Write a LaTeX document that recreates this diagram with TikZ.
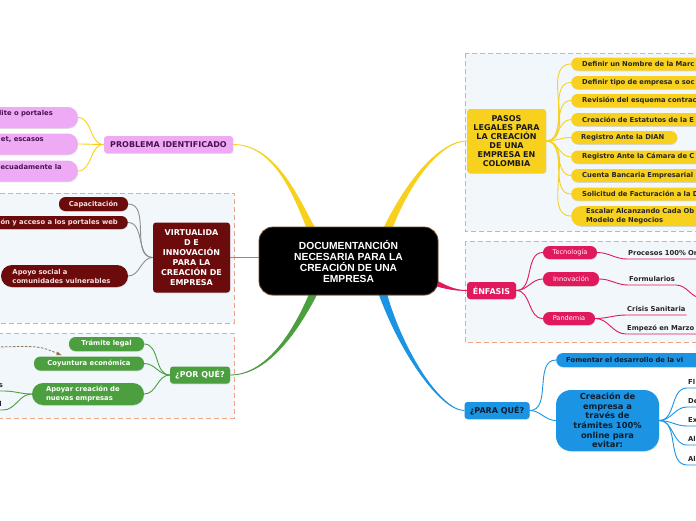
\documentclass[tikz,border=0pt]{standalone}
\usepackage{fontspec}
\setmainfont{DejaVu Sans}
\newfontfamily\centralfont{Liberation Sans}
\usepackage{tikz}
\usetikzlibrary{shadows}

\definecolor{mapyellow}{HTML}{F8D11E}
\definecolor{mappink}{HTML}{EFAAF6}
\definecolor{mappinktext}{HTML}{4A1250}
\definecolor{mapred}{HTML}{6C0B0C}
\definecolor{mapredtext}{HTML}{F5DEDE}
\definecolor{mapgray}{HTML}{8C8C8C}
\definecolor{mapgreen}{HTML}{4C9F3E}
\definecolor{mapmagenta}{HTML}{E2185C}
\definecolor{mapblue}{HTML}{1B94E3}
\definecolor{mapbluetext}{HTML}{0E1C2C}
\definecolor{framecol}{HTML}{F2A688}
\definecolor{framefill}{HTML}{F2F7FC}
\definecolor{relcol}{HTML}{8E7358}
\definecolor{centralborder}{HTML}{6B4A2A}

\begin{document}
\begin{tikzpicture}[x=1pt,y=-1pt,
  frame/.style={draw=framecol,fill=framefill,line width=0.9pt,dash pattern=on 5pt off 3pt},
  box/.style={rounded corners=3pt,inner sep=0pt,align=center,
    drop shadow={opacity=0.25,shadow xshift=0.4pt,shadow yshift=-0.8pt}},
  main/.style={box,font=\fontsize{8}{9}\selectfont\bfseries},
  leaf/.style={box,rounded corners=6.5pt,minimum height=13pt,font=\fontsize{6.8}{9}\selectfont\bfseries},
  pleaf/.style={leaf,fill=mappink,text=mappinktext,rounded corners=10pt,minimum height=21pt,align=right,anchor=east},
  rleaf/.style={leaf,fill=mapred,text=mapredtext},
  gleaf/.style={leaf,fill=mapgreen,text=white},
  yleaf/.style={leaf,fill=mapyellow,text=black!85,anchor=west,inner xsep=11pt,align=left,text width=150pt},
  eleaf/.style={leaf,fill=mapmagenta,text=white,font=\fontsize{6.6}{8}\selectfont},
  bleaf/.style={leaf,fill=mapblue,text=mapbluetext},
  topic/.style={font=\fontsize{6.8}{8}\selectfont\bfseries,text=black!85,inner xsep=1pt,
    inner ysep=1.5pt,text depth=1.5pt,anchor=south west,align=left},
  ylink/.style={mapyellow,line width=0.9pt},
  rlink/.style={mapgray,line width=0.9pt},
  glink/.style={mapgreen,line width=0.9pt},
  elink/.style={mapmagenta,line width=0.9pt},
  blink/.style={mapblue,line width=0.9pt},
  rel/.style={relcol,line width=0.8pt,dash pattern=on 2.5pt off 1.5pt}]

\useasboundingbox (0,0) rectangle (696,520);
\clip (0,0) rectangle (696,520);
\fill[white] (0,0) rectangle (696,520);

% Dashed frames
\filldraw[frame] (465,53) rectangle (705,231);
\filldraw[frame] (465,241) rectangle (705,342);
\filldraw[frame] (-5,193) rectangle (234,323);
\filldraw[frame] (-5,333) rectangle (234,418);

% Main topics
\node[main,fill=mappink,text=mappinktext,minimum width=129pt,minimum height=17pt] (pr) at (168.5,144.5) {PROBLEMA IDENTIFICADO};
\node[main,fill=mapred,text=white,minimum width=77pt,minimum height=70pt,font=\fontsize{8}{10}\selectfont\bfseries] (vi) at (191.5,257.5) {VIRTUALIDA\\D E\\INNOVACIÓN\\PARA LA\\CREACIÓN DE\\EMPRESA};
\node[main,fill=mapgreen,text=white,minimum width=60pt,minimum height=17pt] (pq) at (200,375) {¿POR QUÉ?};
\node[main,fill=mapyellow,text=black!90,minimum width=79pt,minimum height=64pt] (pl) at (506.5,141) {PASOS\\LEGALES PARA\\LA CREACIÓN\\DE UNA\\EMPRESA EN\\COLOMBIA};
\node[main,fill=mapmagenta,text=white,minimum width=49pt,minimum height=17pt] (en) at (491.5,290.5) {ÉNFASIS};
\node[main,fill=mapblue,text=mapbluetext,minimum width=65pt,minimum height=17pt] (pa) at (497,410.5) {¿PARA QUÉ?};

% Branches from the centre
\filldraw[mapyellow,line width=0.8pt] (pr.east) .. controls (276,144.5) and (296,200) .. (310,236)
  -- (319,236) .. controls (299,200) and (277,144.5) .. (pr.east) -- cycle;
\filldraw[mapyellow,line width=0.8pt] (pl.west) .. controls (440,141) and (406,180) .. (380,236)
  -- (389,236) .. controls (409,181) and (441,141) .. (pl.west) -- cycle;
\filldraw[mapgreen,line width=0.8pt] (pq.east) .. controls (265,375) and (293,335) .. (312,288)
  -- (320,288) .. controls (296,336) and (266,375) .. (pq.east) -- cycle;
\filldraw[mapblue,line width=0.8pt] (pa.west) .. controls (440,410.5) and (398,350) .. (377,288)
  -- (385,288) .. controls (401,350) and (441,410.5) .. (pa.west) -- cycle;
\filldraw[mapmagenta,line width=0.8pt] (en.west) .. controls (455,290.5) and (445,286) .. (430,277)
  -- (430,284) .. controls (446,289) and (455,290.5) .. (en.west) -- cycle;

% Central topic
\node[box,fill=black,draw=centralborder,line width=0.8pt,rounded corners=14pt,text=white,
  minimum width=179pt,minimum height=68pt,font=\centralfont\fontsize{10.3}{11}\selectfont\bfseries]
  (ct) at (348.5,261) {DOCUMENTANCIÓN\\NECESARIA PARA LA\\CREACIÓN DE UNA\\EMPRESA};
\draw[mapgray,line width=1.3pt] (vi.east) -- (vi.east -| ct.west);

% Problema identificado
\node[pleaf,inner xsep=25pt] (pr1) at (78,117.5) {lite o portales\\\mbox{}};
\node[pleaf,inner xsep=34pt] (pr2) at (78,144) {et, escasos\\\mbox{}};
\node[pleaf,inner xsep=16pt] (pr3) at (78,171) {ecuadamente la\\\mbox{}};
\foreach \c in {pr1,pr2,pr3}
  \draw[ylink] (pr.west) to[out=180,in=0] (\c.east);

% Virtualidad
\node[rleaf,minimum width=69pt,minimum height=14pt] (vi1) at (93.5,204) {Capacitación};
\node[rleaf,anchor=east,inner xsep=10pt] (vi2) at (128,222.5) {ón y acceso a los portales web};
\node[rleaf,rounded corners=11pt,minimum height=22pt,text width=104pt,inner xsep=11.5pt,align=left] (vi3) at (64.5,276) {Apoyo social a\\comunidades vulnerables};
\foreach \c in {vi1,vi2,vi3}
  \draw[rlink] (vi.west) to[out=180,in=0] (\c.east);

% Por que
\node[gleaf,minimum width=75pt,minimum height=14pt] (pq1) at (106.5,344) {Trámite legal};
\node[gleaf,minimum width=110pt,minimum height=14pt] (pq2) at (89,363.5) {Coyuntura económica};
\node[gleaf,rounded corners=11pt,minimum height=22pt,text width=84pt,inner xsep=14pt,align=left] (pq3) at (88,394) {Apoyar creación de\\nuevas empresas};
\foreach \c in {pq1,pq2,pq3}
  \draw[glink] (pq.west) to[out=180,in=0] (\c.east);
\node[topic,anchor=south east] (pq3a) at (4,391) {s};
\node[topic,anchor=south east] (pq3b) at (3,410) {l};
\foreach \c in {pq3a,pq3b}
  \draw[glink] (pq3.west) to[out=180,in=0] (\c.south east) -- (\c.south west);
\coordinate (relfrom) at (-3,347);
\draw[rel,-latex] (relfrom) .. controls (40,346) .. ([xshift=28pt,yshift=1pt]pq2.north west);

% Pasos legales
\node[yleaf] (pl1) at (571,64) {Definir un Nombre de la Marc};
\node[yleaf] (pl2) at (571,82.5) {Definir tipo de empresa o soc};
\node[yleaf] (pl3) at (571,100.5) {Revisión del esquema contrac};
\node[yleaf] (pl4) at (571,119.5) {Creación de Estatutos de la E};
\node[yleaf,inner xsep=10pt,text width=86pt] (pl5) at (571,137.5) {Registro Ante la DIAN};
\node[yleaf] (pl6) at (571,157) {Registro Ante la Cámara de C};
\node[yleaf] (pl7) at (571,175.5) {Cuenta Bancaria Empresarial};
\node[yleaf] (pl8) at (571,194) {Solicitud de Facturación a la D};
\node[yleaf,inner xsep=15pt,rounded corners=10pt,minimum height=20pt] (pl9) at (571,216) {Escalar Alcanzando Cada Ob\\Modelo de Negocios};
\foreach \c in {pl1,pl2,pl3,pl4,pl5,pl6,pl7,pl8,pl9}
  \draw[ylink] (pl.east) to[out=0,in=180] (\c.west);

% Enfasis
\node[eleaf,minimum width=54pt] (en1) at (570,252.5) {Tecnología};
\node[eleaf,minimum width=56pt,minimum height=14pt] (en2) at (571,279) {Innovación};
\node[eleaf,minimum width=52pt] (en3) at (569,318.5) {Pandemia};
\foreach \c in {en1,en2,en3}
  \draw[elink] (en.east) to[out=0,in=180] (\c.west);
\node[topic,text width=80pt] (en1a) at (627,259) {Procesos 100\% On};
\node[topic] (en2a) at (628,285) {Formularios};
\node[topic] (en3a) at (626,315) {Crisis Sanitaria};
\node[topic,text width=80pt] (en3b) at (626,334) {Empezó en Marzo 2};
\coordinate (en2free) at (702,298);
\draw[elink] (en1.east) to[out=0,in=180] (en1a.south west) -- (en1a.south east);
\draw[elink] (en2.east) to[out=0,in=180] (en2a.south west) -- (en2a.south east) to[out=0,in=180] (en2free);
\draw[elink] (en3.east) to[out=0,in=180] (en3a.south west) -- (en3a.south east);
\draw[elink] (en3.east) to[out=0,in=180] (en3b.south west) -- (en3b.south east);

% Para que
\node[bleaf,anchor=west,inner xsep=10pt,text width=150pt,align=left,minimum height=14pt,rounded corners=7pt] (pa1) at (556,360) {Fomentar el desarrollo de la vi};
\node[bleaf,rounded corners=15pt,minimum width=103pt,minimum height=61pt,font=\fontsize{8.3}{9.6}\selectfont\bfseries] (pa2) at (607.5,420.5) {Creación de\\empresa a\\través de\\trámites 100\%\\online para\\evitar:};
\foreach \c in {pa1,pa2}
  \draw[blink] (pa.east) to[out=0,in=180] (\c.west);
\node[topic,text width=20pt] (pa2a) at (687,388) {Fl};
\node[topic,text width=20pt] (pa2b) at (687,407) {De};
\node[topic,text width=20pt] (pa2c) at (687,426) {Ex};
\node[topic,text width=20pt] (pa2d) at (687,445) {Al};
\node[topic,text width=20pt] (pa2e) at (687,465) {Al};
\foreach \c in {pa2a,pa2b,pa2c,pa2d,pa2e}
  \draw[blink] (pa2.east) to[out=0,in=180] (\c.south west) -- (\c.south east);
\end{tikzpicture}
\end{document}
